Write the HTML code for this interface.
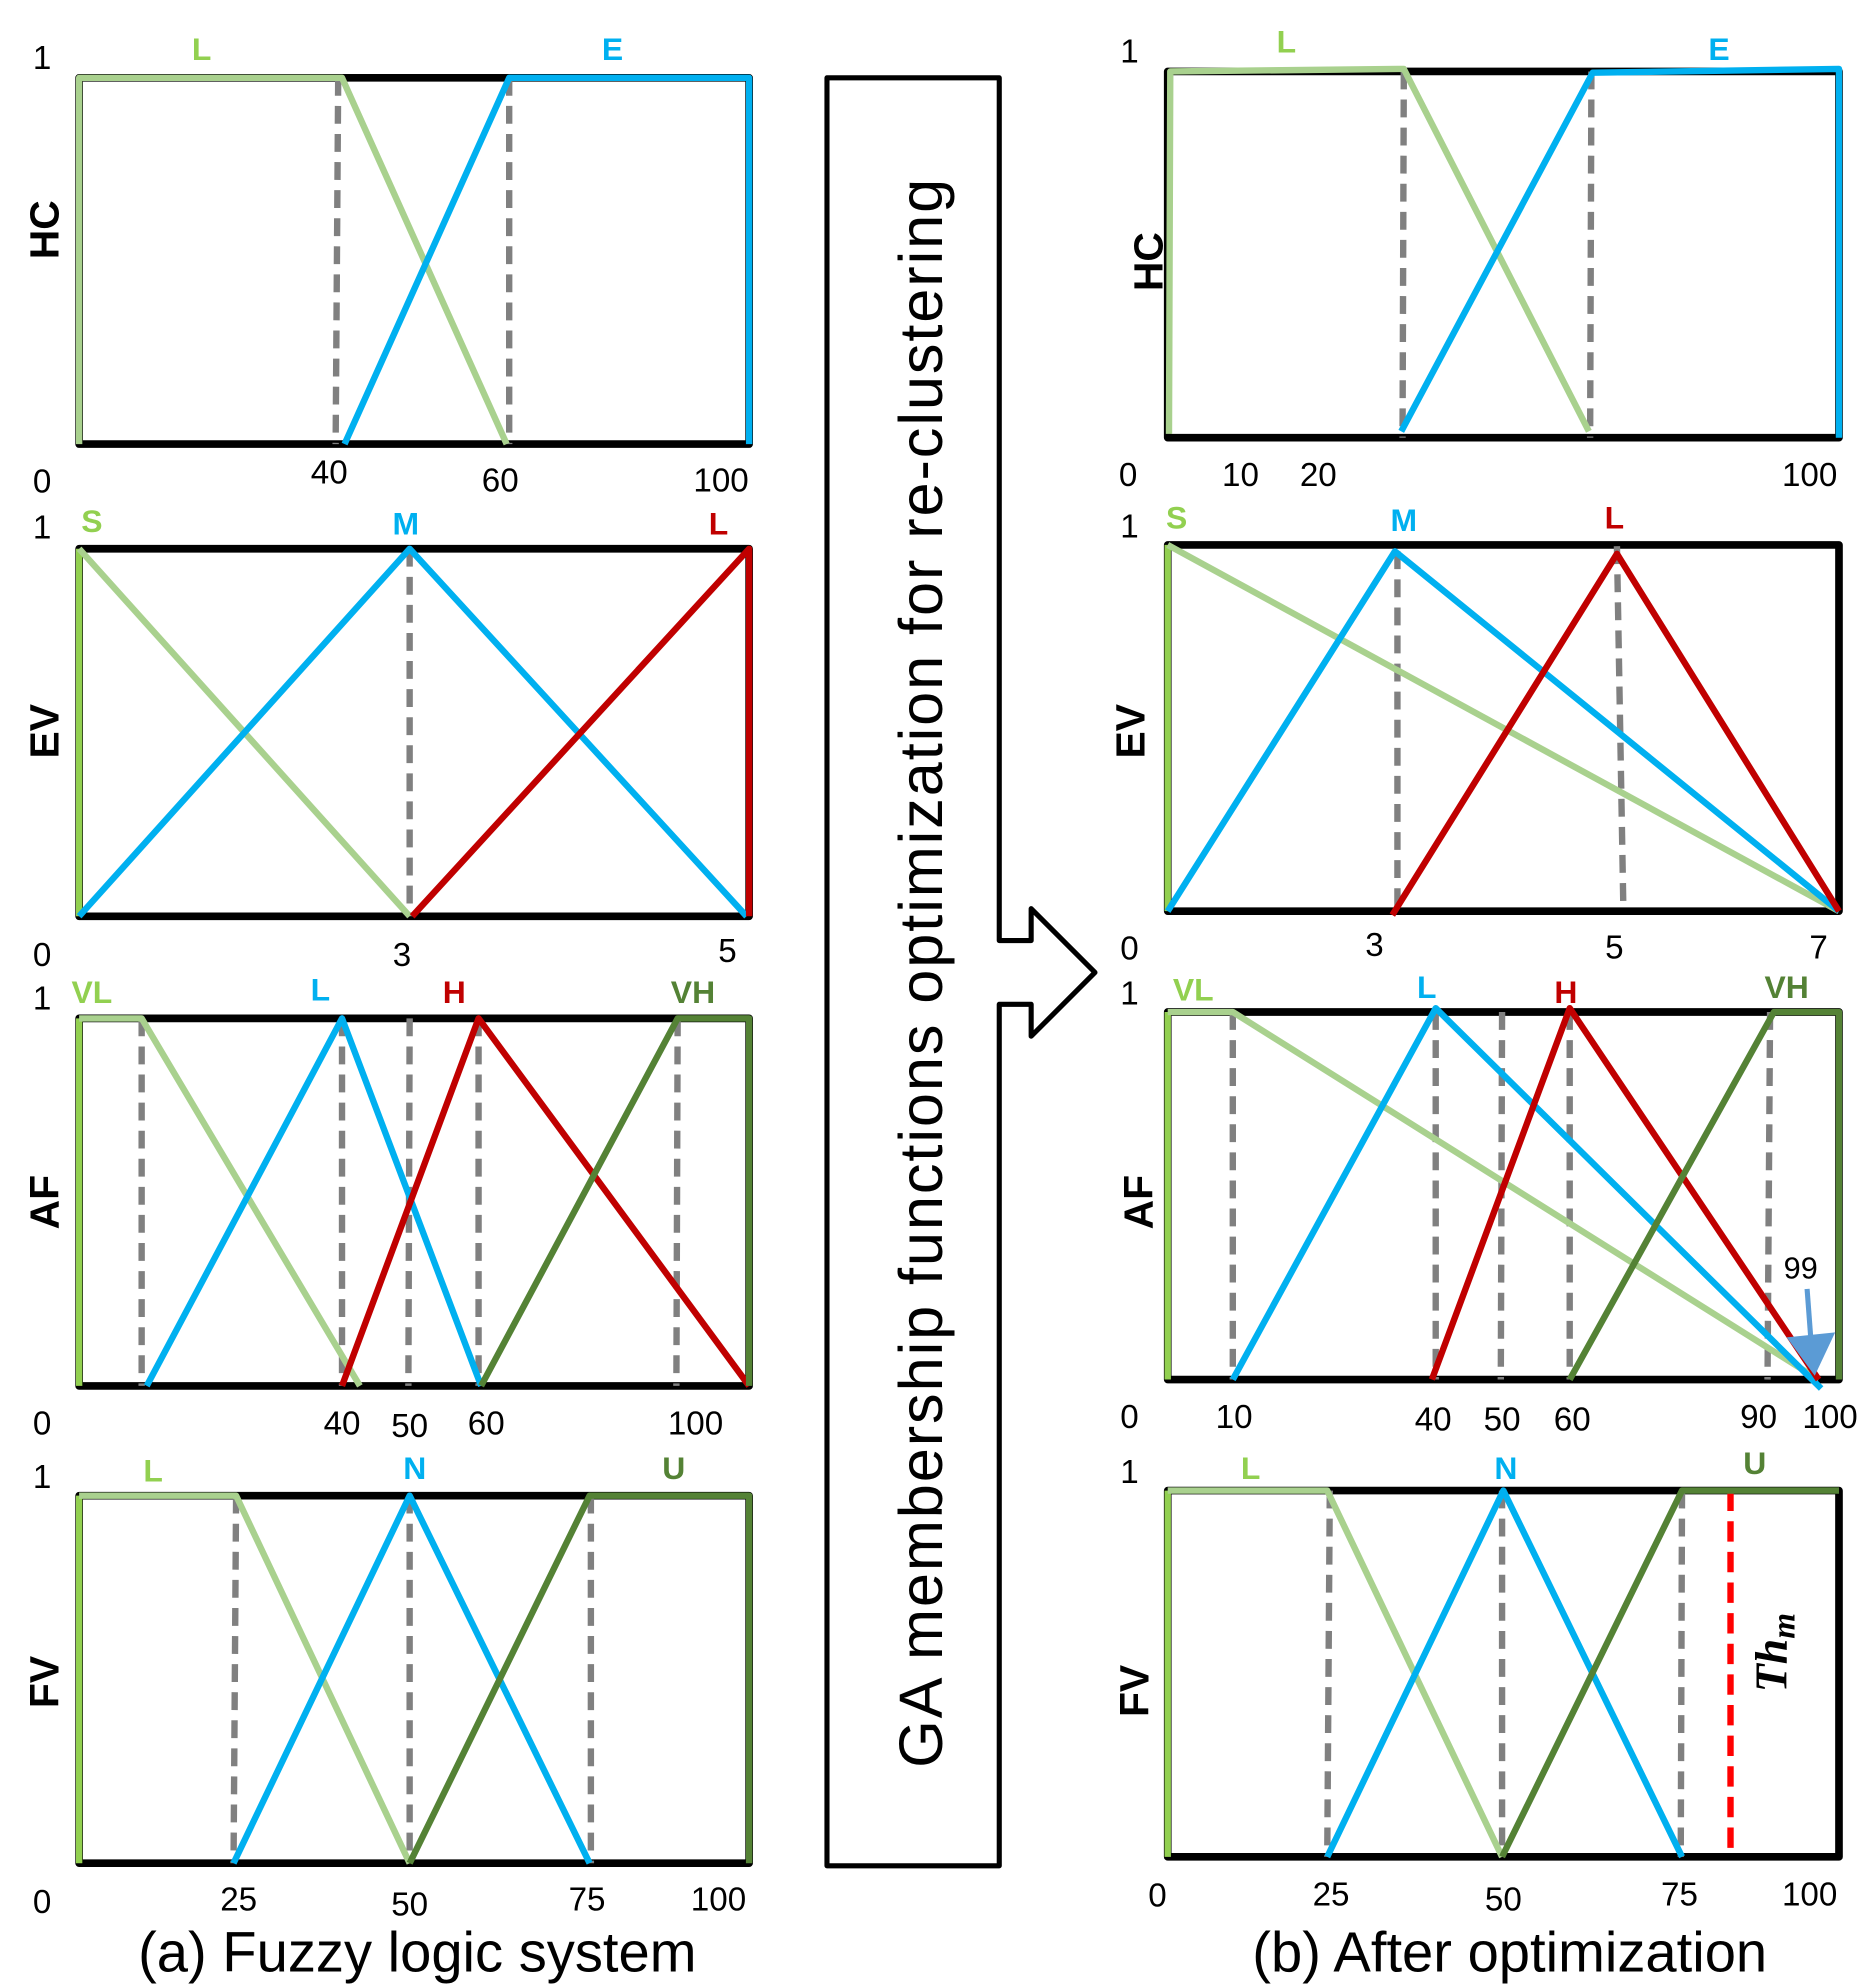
<!DOCTYPE html>
<html><head><meta charset="utf-8"><style>html,body{margin:0;padding:0;background:#fff}svg{display:block}</style></head>
<body>
<svg width="1876" height="1987" viewBox="0 0 1470 1557" preserveAspectRatio="none" xmlns="http://www.w3.org/2000/svg" font-family="Liberation Sans, sans-serif">
<g fill="none" stroke-linejoin="round">
<rect x="62" y="61" width="525" height="287" stroke="#000" stroke-width="6"/>
<g stroke="#808080" stroke-width="5" stroke-dasharray="14,8"><line x1="265" y1="61" x2="263" y2="348"/><line x1="399" y1="61" x2="399" y2="348"/></g>
<polyline points="62,348 62,61 268,61 397,348" stroke="#a9d18e" stroke-width="5"/>
<polyline points="270,348 399,61 587,61 587,348" stroke="#00b0f0" stroke-width="5"/>
<rect x="62" y="430" width="525" height="288" stroke="#000" stroke-width="6"/>
<line x1="321" y1="430" x2="321" y2="718" stroke="#808080" stroke-width="5" stroke-dasharray="14,8"/>
<line x1="62" y1="430" x2="62" y2="718" stroke="#92d050" stroke-width="5"/>
<polyline points="62,430 321,718" stroke="#a9d18e" stroke-width="5"/>
<polyline points="62,718 321,430 585,718" stroke="#00b0f0" stroke-width="5"/>
<polyline points="323,718 587,430 587,718" stroke="#c00000" stroke-width="5"/>
<rect x="62" y="798" width="525" height="288" stroke="#000" stroke-width="6"/>
<g stroke="#808080" stroke-width="5" stroke-dasharray="14,8"><line x1="111" y1="798" x2="111" y2="1086"/><line x1="268" y1="798" x2="268" y2="1086"/><line x1="321" y1="798" x2="320" y2="1086"/><line x1="375" y1="798" x2="375" y2="1086"/><line x1="531" y1="798" x2="530" y2="1086"/></g>
<line x1="62" y1="798" x2="62" y2="1086" stroke="#92d050" stroke-width="5"/>
<polyline points="62,798 111,798 282,1086" stroke="#a9d18e" stroke-width="5"/>
<polyline points="115,1086 268,798 377,1086" stroke="#00b0f0" stroke-width="5"/>
<polyline points="268,1086 375,798 587,1086" stroke="#c00000" stroke-width="5"/>
<polyline points="377,1086 531,798 587,798 587,1086" stroke="#548235" stroke-width="5"/>
<rect x="62" y="1172" width="525" height="288" stroke="#000" stroke-width="6"/>
<g stroke="#808080" stroke-width="5" stroke-dasharray="14,8"><line x1="185" y1="1172" x2="183" y2="1460"/><line x1="321" y1="1172" x2="321" y2="1460"/><line x1="463" y1="1172" x2="463" y2="1460"/></g>
<line x1="62" y1="1172" x2="62" y2="1460" stroke="#92d050" stroke-width="5"/>
<polyline points="62,1172 185,1172 321,1460" stroke="#a9d18e" stroke-width="5"/>
<polyline points="183,1460 321,1172 462,1460" stroke="#00b0f0" stroke-width="5"/>
<polyline points="321,1460 462,1172 587,1172 587,1460" stroke="#548235" stroke-width="5"/>

<path d="M648,61 L783,61 L783,737 L808,737 L808,712 L858,762 L808,812 L808,787 L783,787 L783,1462 L648,1462 Z" stroke="#000" stroke-width="4" fill="#fff"/>

<rect x="915" y="56" width="526" height="287" stroke="#000" stroke-width="6"/>
<g stroke="#808080" stroke-width="5" stroke-dasharray="14,8"><line x1="1100" y1="56" x2="1099" y2="343"/><line x1="1247" y1="56" x2="1246" y2="343"/></g>
<polyline points="916,340 917,56 1100,54 1245,338" stroke="#a9d18e" stroke-width="5"/>
<polyline points="1098,338 1248,57 1441,54 1441,343" stroke="#00b0f0" stroke-width="5"/>
<rect x="915" y="427" width="526" height="287" stroke="#000" stroke-width="6"/>
<g stroke="#808080" stroke-width="5" stroke-dasharray="14,8"><line x1="1095" y1="432" x2="1095" y2="717"/><line x1="1267" y1="428" x2="1272" y2="710"/></g>
<line x1="915" y1="427" x2="915" y2="714" stroke="#92d050" stroke-width="5"/>
<polyline points="915,427 1441,714" stroke="#a9d18e" stroke-width="5"/>
<polyline points="915,714 1093,432 1441,714" stroke="#00b0f0" stroke-width="5"/>
<polyline points="1091,717 1267,434 1441,714" stroke="#c00000" stroke-width="5"/>
<rect x="915" y="793" width="526" height="288" stroke="#000" stroke-width="6"/>
<g stroke="#808080" stroke-width="5" stroke-dasharray="14,8"><line x1="966" y1="793" x2="966" y2="1081"/><line x1="1125" y1="793" x2="1125" y2="1081"/><line x1="1177" y1="793" x2="1176" y2="1081"/><line x1="1230" y1="793" x2="1230" y2="1081"/><line x1="1387" y1="793" x2="1385" y2="1081"/></g>
<line x1="915" y1="793" x2="915" y2="1081" stroke="#92d050" stroke-width="5"/>
<polyline points="915,793 966,793 1425,1081" stroke="#a9d18e" stroke-width="5"/>
<polyline points="966,1081 1125,790 1427,1088" stroke="#00b0f0" stroke-width="5"/>
<polyline points="1122,1081 1230,790 1425,1081" stroke="#c00000" stroke-width="5"/>
<polyline points="1230,1081 1390,793 1441,793 1441,1081" stroke="#548235" stroke-width="5"/>
<line x1="1416" y1="1010" x2="1419" y2="1050" stroke="#5b9bd5" stroke-width="4"/>
<polygon points="1400,1048 1438,1044 1422,1078" fill="#5b9bd5" stroke="none"/>
<rect x="915" y="1168" width="526" height="287" stroke="#000" stroke-width="6"/>
<g stroke="#808080" stroke-width="5" stroke-dasharray="14,8"><line x1="1042" y1="1168" x2="1040" y2="1455"/><line x1="1177" y1="1168" x2="1177" y2="1455"/><line x1="1318" y1="1168" x2="1317" y2="1455"/></g>
<line x1="1356" y1="1168" x2="1356" y2="1455" stroke="#ff0000" stroke-width="5" stroke-dasharray="16,8"/>
<line x1="915" y1="1168" x2="915" y2="1455" stroke="#92d050" stroke-width="5"/>
<polyline points="915,1168 1040,1168 1177,1455" stroke="#a9d18e" stroke-width="5"/>
<polyline points="1040,1455 1178,1168 1318,1455" stroke="#00b0f0" stroke-width="5"/>
<polyline points="1177,1455 1318,1168 1441,1168" stroke="#548235" stroke-width="5"/>
</g>

<g font-size="26" fill="#000" text-anchor="middle">
<text x="33" y="54">1</text><text x="33" y="386">0</text>
<text x="258" y="379">40</text><text x="392" y="385">60</text><text x="565" y="385">100</text>
<text x="33" y="422">1</text><text x="33" y="757">0</text>
<text x="315" y="757">3</text><text x="570" y="754">5</text>
<text x="33" y="791">1</text><text x="33" y="1124">0</text>
<text x="268" y="1124">40</text><text x="321" y="1126">50</text><text x="381" y="1124">60</text><text x="545" y="1124">100</text>
<text x="33" y="1166">1</text><text x="33" y="1499">0</text>
<text x="187" y="1497">25</text><text x="321" y="1501">50</text><text x="460" y="1497">75</text><text x="563" y="1497">100</text>
<text x="885" y="49">1</text><text x="884" y="381">0</text>
<text x="972" y="381">10</text><text x="1033" y="381">20</text><text x="1418" y="381">100</text>
<text x="885" y="421">1</text><text x="885" y="752">0</text>
<text x="1077" y="749">3</text><text x="1265" y="751">5</text><text x="1425" y="751">7</text>
<text x="885" y="787">1</text><text x="885" y="1119">0</text>
<text x="967" y="1119">10</text><text x="1123" y="1121">40</text><text x="1177" y="1121">50</text><text x="1232" y="1121">60</text><text x="1378" y="1119">90</text><text x="1434" y="1119">100</text>
<text x="1411" y="1002" font-size="24">99</text>
<text x="885" y="1162">1</text><text x="907" y="1494">0</text>
<text x="1043" y="1493">25</text><text x="1178" y="1497">50</text><text x="1316" y="1493">75</text><text x="1418" y="1493">100</text>
</g>
<g font-size="25" font-weight="bold" text-anchor="middle">
<text x="158" y="47" fill="#92d050">L</text><text x="480" y="47" fill="#00b0f0">E</text>
<text x="72" y="417" fill="#92d050">S</text><text x="318" y="419" fill="#00b0f0">M</text><text x="563" y="419" fill="#c00000">L</text>
<text x="72" y="786" fill="#92d050">VL</text><text x="251" y="784" fill="#00b0f0">L</text><text x="356" y="786" fill="#c00000">H</text><text x="543" y="786" fill="#548235">VH</text>
<text x="120" y="1161" fill="#92d050">L</text><text x="325" y="1159" fill="#00b0f0">N</text><text x="528" y="1159" fill="#548235">U</text>
<text x="1008" y="41" fill="#92d050">L</text><text x="1347" y="47" fill="#00b0f0">E</text>
<text x="922" y="414" fill="#92d050">S</text><text x="1100" y="416" fill="#00b0f0">M</text><text x="1265" y="414" fill="#c00000">L</text>
<text x="935" y="784" fill="#92d050">VL</text><text x="1118" y="782" fill="#00b0f0">L</text><text x="1227" y="786" fill="#c00000">H</text><text x="1400" y="782" fill="#548235">VH</text>
<text x="980" y="1159" fill="#92d050">L</text><text x="1180" y="1159" fill="#00b0f0">N</text><text x="1375" y="1155" fill="#548235">U</text>
</g>
<g font-size="32" font-weight="bold" text-anchor="middle">
<text transform="translate(46,180) rotate(-90)">HC</text>
<text transform="translate(46,573) rotate(-90)">EV</text>
<text transform="translate(46,942) rotate(-90)">AF</text>
<text transform="translate(46,1318) rotate(-90)">FV</text>
<text transform="translate(911,205) rotate(-90)">HC</text>
<text transform="translate(897,573) rotate(-90)">EV</text>
<text transform="translate(903,942) rotate(-90)">AF</text>
<text transform="translate(900,1325) rotate(-90)">FV</text>
</g>
<text transform="translate(738,762) rotate(-90)" font-size="48" letter-spacing="1.5" text-anchor="middle">GA membership functions optimization for re-clustering</text>
<text transform="translate(1400,1295) rotate(-90)" font-size="36" font-weight="bold" font-style="italic" font-family="Liberation Serif, serif" text-anchor="middle">Th<tspan font-size="26" dy="6">m</tspan></text>
<text x="327" y="1545" font-size="44" text-anchor="middle">(a) Fuzzy logic system</text>
<text x="1183" y="1545" font-size="44" text-anchor="middle">(b) After optimization</text>
</svg>
</body></html>
